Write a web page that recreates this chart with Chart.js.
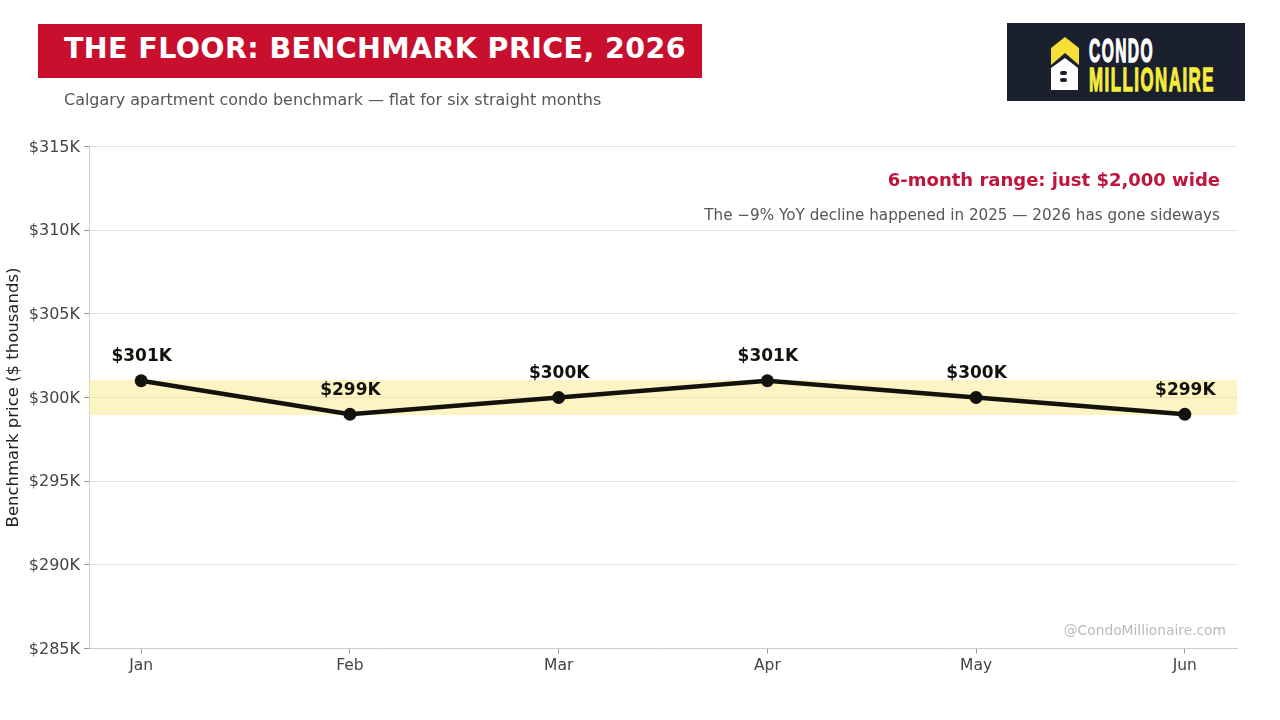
<!DOCTYPE html>
<html>
<head>
<meta charset="utf-8">
<title>The Floor: Benchmark Price, 2026</title>
<script src="https://cdn.jsdelivr.net/npm/chart.js@4/dist/chart.umd.min.js"></script>
<style>
  html, body { margin: 0; padding: 0; background: #fff; }
  body { width: 1280px; height: 720px; position: relative; overflow: hidden; font-family: "DejaVu Sans", sans-serif; }
  #chart { position: absolute; left: 0; top: 0; }
  .banner {
    position: absolute; left: 38px; top: 24px; width: 664px; height: 54px; background: #c8102e;
    color: #fff; font-weight: bold; font-size: 28.5px; line-height: 50px; padding-left: 26px;
    box-sizing: border-box; letter-spacing: 0.4px; white-space: nowrap;
  }
  .subtitle { position: absolute; left: 64px; top: 90px; font-size: 15.95px; line-height: 19px; color: #555; white-space: nowrap; }
  .logo { position: absolute; left: 1007px; top: 23px; }
  .logo text { font-family: "Liberation Sans Narrow", "Liberation Sans", sans-serif; font-weight: bold; font-size: 33px; letter-spacing: 3px; stroke-width: 1.3px; }
</style>
</head>
<body>
<canvas id="chart" width="1280" height="720"></canvas>
<div class="banner">THE FLOOR: BENCHMARK PRICE, 2026</div>
<div class="subtitle">Calgary apartment condo benchmark — flat for six straight months</div>

<svg class="logo" width="238" height="78" viewBox="0 0 238 78">
  <rect width="238" height="78" fill="#1a202e"/>
  <polygon points="58,14 72,25 72,42 58,30 44,42 44,25" fill="#f7df3a"/>
  <polygon points="58,35 71,45 71,67 44,67 44,45" fill="#fff"/>
  <rect x="53" y="48" width="7" height="4" rx="2" fill="#1a202e"/>
  <rect x="53" y="55" width="7" height="4" rx="2" fill="#1a202e"/>
  <text x="82" y="39" fill="#fff" stroke="#fff" textLength="65" lengthAdjust="spacingAndGlyphs">CONDO</text>
  <text x="82" y="68" fill="#f7ee3c" stroke="#f7ee3c" textLength="126" lengthAdjust="spacingAndGlyphs">MILLIONAIRE</text>
</svg>

<script>
const months = ["Jan", "Feb", "Mar", "Apr", "May", "Jun"];
const benchmark = [301, 299, 300, 301, 300, 299];
const valueLabels = ["$301K", "$299K", "$300K", "$301K", "$300K", "$299K"];
const bandLow = 298.95;
const bandHigh = 301.05;

const FONT = '"DejaVu Sans", sans-serif';
const INK = "#14120c";

// yellow range band, under the line but over the gridlines
const rangeBand = {
  id: "rangeBand",
  beforeDatasetsDraw(chart) {
    const { ctx, chartArea, scales } = chart;
    const top = scales.y.getPixelForValue(bandHigh);
    const bottom = scales.y.getPixelForValue(bandLow);
    ctx.save();
    ctx.fillStyle = "rgba(250, 231, 124, 0.45)";
    ctx.fillRect(chartArea.left, top, chartArea.right - chartArea.left, bottom - top);
    ctx.restore();
  },
};

// value labels over the points, plus the notes in the plot corners
const annotations = {
  id: "annotations",
  afterDatasetsDraw(chart) {
    const { ctx, chartArea, scales } = chart;
    ctx.save();
    ctx.textAlign = "center";
    ctx.textBaseline = "middle";
    ctx.font = "bold 17px " + FONT;
    ctx.fillStyle = INK;
    benchmark.forEach((v, i) => {
      const x = scales.x.getPixelForValue(i);
      const y = scales.y.getPixelForValue(v);
      ctx.fillText(valueLabels[i], x + 0.5, y - 24);
    });

    ctx.textAlign = "right";
    ctx.font = "bold 18px " + FONT;
    ctx.fillStyle = "#c0143c";
    ctx.fillText("6-month range: just $2,000 wide", 1220, 181);

    ctx.font = "15.2px " + FONT;
    ctx.fillStyle = "#555";
    ctx.fillText("The −9% YoY decline happened in 2025 — 2026 has gone sideways", 1220, 216);

    ctx.font = "13.8px " + FONT;
    ctx.fillStyle = "#bbb";
    ctx.fillText("@CondoMillionaire.com", chartArea.right - 11, 631);
    ctx.restore();
  },
};

new Chart(document.getElementById("chart"), {
  type: "line",
  data: {
    datasets: [
      {
        data: benchmark.map((v, i) => ({ x: i, y: v })),
        borderColor: INK,
        backgroundColor: INK,
        borderWidth: 4.5,
        pointRadius: 6.5,
        pointBackgroundColor: INK,
        pointBorderColor: INK,
        pointBorderWidth: 0,
        tension: 0,
        clip: false,
      },
    ],
  },
  options: {
    responsive: false,
    animation: false,
    layout: { padding: { left: 0, top: 146.5, right: 43, bottom: 31.5 } },
    plugins: { legend: { display: false }, tooltip: { enabled: false } },
    scales: {
      x: {
        type: "linear",
        min: -0.25,
        max: 5.25,
        afterBuildTicks(scale) {
          scale.ticks = months.map((m, i) => ({ value: i }));
        },
        afterFit(scale) {
          scale.height = 40;
        },
        grid: { drawOnChartArea: false, tickLength: 5, tickColor: "#999" },
        border: { color: "#ccc" },
        ticks: {
          autoSkip: false,
          maxRotation: 0,
          padding: 3,
          color: "#444",
          font: { family: FONT, size: 15.5 },
          callback: (value) => months[value],
        },
      },
      y: {
        min: 285,
        max: 315,
        afterFit(scale) {
          scale.width = 89;
        },
        grid: { color: "#e2e2e2", tickLength: 5, tickColor: "#999" },
        border: { color: "#ccc" },
        ticks: {
          stepSize: 5,
          padding: 4,
          labelOffset: 1,
          color: "#444",
          font: { family: FONT, size: 16 },
          callback: (value) => "$" + value + "K",
        },
        title: {
          display: true,
          text: "Benchmark price ($ thousands)",
          color: "#222",
          padding: { top: 4, bottom: 0 },
          font: { family: FONT, size: 16.5 },
        },
      },
    },
  },
  plugins: [rangeBand, annotations],
});
</script>
</body>
</html>
